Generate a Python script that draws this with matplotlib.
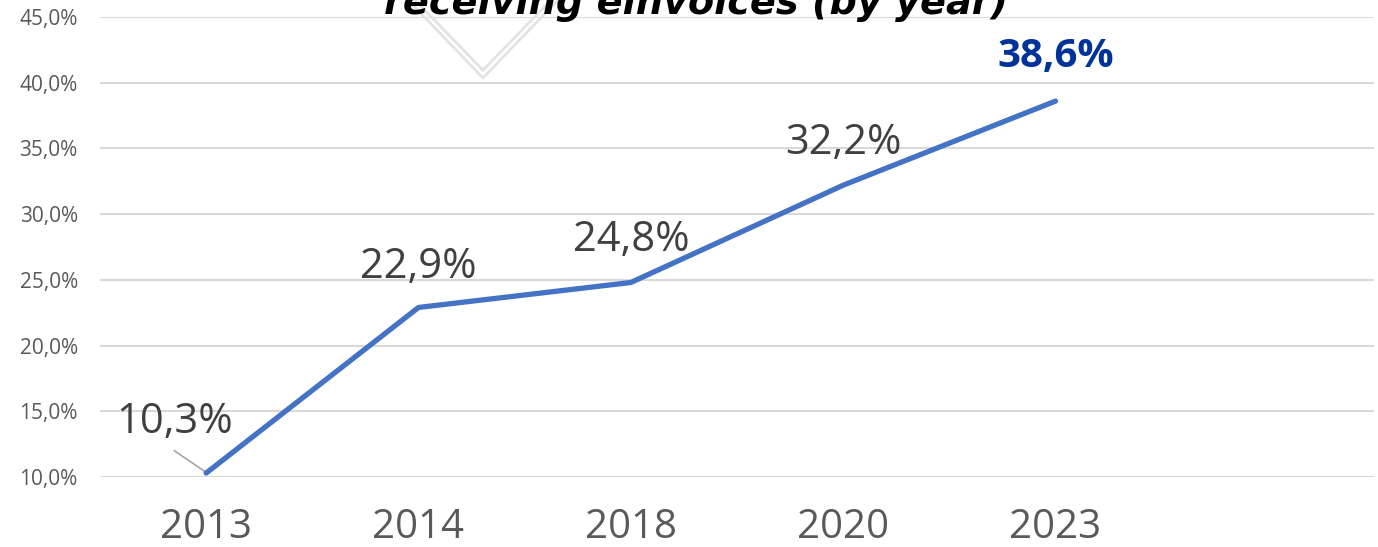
import matplotlib
matplotlib.use("Agg")
import matplotlib.pyplot as plt
from matplotlib.lines import Line2D

# data
years = ["2013", "2014", "2018", "2020", "2023"]
share = [10.3, 22.9, 24.8, 32.2, 38.6]
yticks = [10, 15, 20, 25, 30, 35, 40, 45]

line_col = "#4472C4"
grey_txt = "#595959"
lbl_txt = "#404040"

plt.rcParams["font.family"] = ["Open Sans", "DejaVu Sans"]

fig = plt.figure(figsize=(13.78, 5.47), dpi=100)
ax = fig.add_axes([100/1378, 1-477/547, 1274/1378, 460/547])

x = list(range(len(years)))
ax.plot(x, share, color=line_col, lw=3.8, solid_capstyle="round", zorder=3)

ax.set_xlim(-0.5, 5.5)
ax.set_ylim(10, 45)
ax.set_yticks(yticks)
ax.set_yticklabels([f"{v:.1f}%".replace(".", ",") for v in yticks],
                   fontsize=15, color=grey_txt)
ax.set_xticks(x)
ax.set_xticklabels(years, fontsize=29, color=grey_txt)
ax.tick_params(length=0)
ax.tick_params(axis="y", pad=16)
ax.tick_params(axis="x", pad=22)
ax.grid(axis="y", color="#D9D9D9", lw=1.5)
ax.set_axisbelow(True)
for s in ax.spines.values():
    s.set_visible(False)

# data labels
offsets = [(-0.15, 3.9), (0, 3.1), (0, 3.2), (0, 3.2), (0, 3.4)]
for i, v in enumerate(share):
    txt = f"{v:.1f}%".replace(".", ",")
    dx, dy = offsets[i]
    if i == len(share) - 1:
        ax.text(i + dx, v + dy, txt, fontsize=29, fontweight="bold",
                color="#003399", ha="center", va="center")
    else:
        ax.text(i + dx, v + dy, txt, fontsize=30, color=lbl_txt,
                ha="center", va="center")

# leader line for first label
ax.plot([-0.15, 0], [12.0, 10.35], color="#A6A6A6", lw=1.2, zorder=2)

# faint watermark
for off in (0, 7):
    fig.add_artist(Line2D([(408+off)/1378, 483/1378, (558-off)/1378],
                          [1.0, 1-(78-off*1.1)/547, 1.0],
                          transform=fig.transFigure, color="#E3E3E3", lw=2))

# title (cut off at top, as in the source)
fig.text(0.505, 1-14/547, "receiving einvoices (by year)", fontsize=27.5,
         fontweight="bold", fontstyle="italic", color="black",
         ha="center", va="baseline", family=["DejaVu Sans"])

fig.savefig("out.png", dpi=100)
